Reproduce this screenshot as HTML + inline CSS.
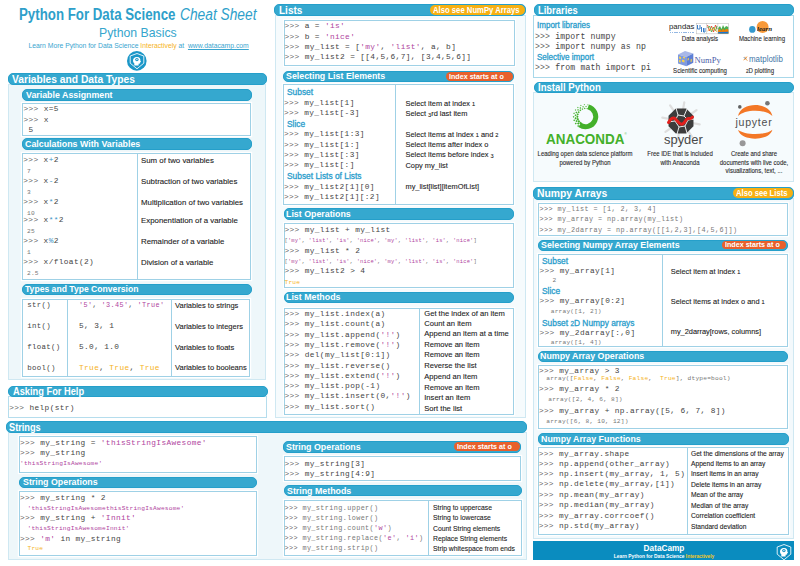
<!DOCTYPE html>
<html><head><meta charset="utf-8"><style>
*{margin:0;padding:0;box-sizing:border-box}
html,body{width:800px;height:566px;overflow:hidden;background:#fff;position:relative}
.t{position:absolute;white-space:pre;line-height:1;transform-origin:0 50%}
.body{position:absolute;border:1px solid #cfe8f2}
.cbox{position:absolute;background:#fff;border:1px solid #9fd1e6;box-shadow:0 0 0 1.2px #fff}
.vdiv{position:absolute;background:#9fd1e6}
.hdr{position:absolute;background:#35a8cf;border-radius:5px;border:0.8px solid #259fca}
.sub{position:absolute;background:#35a8cf;border-radius:5px;border:0.8px solid #259fca}
.badge{position:absolute;border-radius:5px}
.p{color:#666}
.q{color:#b0449e}
.y{color:#f5b324}
.o{color:#3b93c6}
</style></head>
<body>
<div class="t" style="left:19.30px;top:7px;font-size:16px;color:#2e9fca;font-family:'Liberation Sans',sans-serif;font-weight:bold;transform:scaleX(0.83);">Python For Data Science</div><div class="t" style="left:180.00px;top:7px;font-size:16px;color:#2e9fca;font-family:'Liberation Sans',sans-serif;font-style:italic;transform:scaleX(0.86);">Cheat Sheet</div><div class="t" style="left:99.40px;top:26px;font-size:13.2px;color:#35a5cd;font-family:'Liberation Sans',sans-serif;transform:scaleX(0.93);">Python Basics</div><div class="t" style="left:28.50px;top:43px;font-size:6.8px;color:#3aa5cf;font-family:'Liberation Sans',sans-serif;">Learn More Python for Data Science <span style="color:#f5b324">Interactively</span> at&nbsp; <u>www.datacamp.com</u></div><div class="body" style="left:7.8px;top:84px;width:258.70px;height:295.50px;background:#eef7fa;"></div><div class="hdr" style="left:8.25px;top:72.5px;width:258.75px;height:12.70px;"></div><div class="t" style="left:12.40px;top:74px;font-size:11.4px;color:#fff;font-family:'Liberation Sans',sans-serif;font-weight:bold;transform:scaleX(0.9);">Variables and Data Types</div><div class="sub" style="left:21.5px;top:88.75px;width:230.50px;height:11.75px;"></div><div class="t" style="left:25.90px;top:91px;font-size:9.3px;color:#fff;font-family:'Liberation Sans',sans-serif;font-weight:bold;transform:scaleX(0.95);">Variable Assignment</div><div class="cbox" style="left:22px;top:102.5px;width:228.90px;height:33.00px;"></div><div class="t" style="left:23.50px;top:106px;font-size:7.8px;color:#444;font-family:'Liberation Mono',monospace;letter-spacing:0.37px;"><span class="p">&gt;&gt;&gt;</span> x=5</div><div class="t" style="left:23.50px;top:117px;font-size:7.8px;color:#444;font-family:'Liberation Mono',monospace;letter-spacing:0.37px;"><span class="p">&gt;&gt;&gt;</span> x</div><div class="t" style="left:23.50px;top:127px;font-size:7.8px;color:#444;font-family:'Liberation Mono',monospace;letter-spacing:0.37px;"> 5</div><div class="sub" style="left:21.5px;top:138px;width:230.50px;height:11.50px;"></div><div class="t" style="left:25.40px;top:140px;font-size:9.3px;color:#fff;font-family:'Liberation Sans',sans-serif;font-weight:bold;transform:scaleX(0.95);">Calculations With Variables</div><div class="cbox" style="left:22px;top:152.5px;width:228.90px;height:127.00px;"></div><div class="vdiv" style="left:136.9px;top:152.5px;width:1.00px;height:127.00px;"></div><div class="t" style="left:23.30px;top:157px;font-size:7.8px;color:#444;font-family:'Liberation Mono',monospace;letter-spacing:0.37px;"><span class="p">&gt;&gt;&gt;</span></div><div class="t" style="left:43.60px;top:157px;font-size:7.8px;color:#444;font-family:'Liberation Mono',monospace;letter-spacing:0.37px;">x<span class="o">+</span>2</div><div class="t" style="left:27.00px;top:169px;font-size:6.2px;color:#777;font-family:'Liberation Mono',monospace;letter-spacing:0.21px;">7</div><div class="t" style="left:141.00px;top:157px;font-size:7.85px;color:#222;font-family:'Liberation Sans',sans-serif;-webkit-text-stroke:0.1px #222;">Sum of two variables</div><div class="t" style="left:23.30px;top:178px;font-size:7.8px;color:#444;font-family:'Liberation Mono',monospace;letter-spacing:0.37px;"><span class="p">&gt;&gt;&gt;</span></div><div class="t" style="left:43.60px;top:178px;font-size:7.8px;color:#444;font-family:'Liberation Mono',monospace;letter-spacing:0.37px;">x<span class="o">-</span>2</div><div class="t" style="left:27.00px;top:190px;font-size:6.2px;color:#777;font-family:'Liberation Mono',monospace;letter-spacing:0.21px;">3</div><div class="t" style="left:141.00px;top:178px;font-size:7.85px;color:#222;font-family:'Liberation Sans',sans-serif;-webkit-text-stroke:0.1px #222;">Subtraction of two variables</div><div class="t" style="left:23.30px;top:199px;font-size:7.8px;color:#444;font-family:'Liberation Mono',monospace;letter-spacing:0.37px;"><span class="p">&gt;&gt;&gt;</span></div><div class="t" style="left:43.60px;top:199px;font-size:7.8px;color:#444;font-family:'Liberation Mono',monospace;letter-spacing:0.37px;">x<span class="o">*</span>2</div><div class="t" style="left:27.00px;top:211px;font-size:6.2px;color:#777;font-family:'Liberation Mono',monospace;letter-spacing:0.21px;">10</div><div class="t" style="left:141.00px;top:199px;font-size:7.85px;color:#222;font-family:'Liberation Sans',sans-serif;-webkit-text-stroke:0.1px #222;">Multiplication of two variables</div><div class="t" style="left:23.30px;top:217px;font-size:7.8px;color:#444;font-family:'Liberation Mono',monospace;letter-spacing:0.37px;"><span class="p">&gt;&gt;&gt;</span></div><div class="t" style="left:43.60px;top:217px;font-size:7.8px;color:#444;font-family:'Liberation Mono',monospace;letter-spacing:0.37px;">x<span class="o">**</span>2</div><div class="t" style="left:27.00px;top:229px;font-size:6.2px;color:#777;font-family:'Liberation Mono',monospace;letter-spacing:0.21px;">25</div><div class="t" style="left:141.00px;top:217px;font-size:7.85px;color:#222;font-family:'Liberation Sans',sans-serif;-webkit-text-stroke:0.1px #222;">Exponentiation of a variable</div><div class="t" style="left:23.30px;top:238px;font-size:7.8px;color:#444;font-family:'Liberation Mono',monospace;letter-spacing:0.37px;"><span class="p">&gt;&gt;&gt;</span></div><div class="t" style="left:43.60px;top:238px;font-size:7.8px;color:#444;font-family:'Liberation Mono',monospace;letter-spacing:0.37px;">x<span class="o">%</span>2</div><div class="t" style="left:27.00px;top:250px;font-size:6.2px;color:#777;font-family:'Liberation Mono',monospace;letter-spacing:0.21px;">1</div><div class="t" style="left:141.00px;top:238px;font-size:7.85px;color:#222;font-family:'Liberation Sans',sans-serif;-webkit-text-stroke:0.1px #222;">Remainder of a variable</div><div class="t" style="left:23.30px;top:259px;font-size:7.8px;color:#444;font-family:'Liberation Mono',monospace;letter-spacing:0.37px;"><span class="p">&gt;&gt;&gt;</span></div><div class="t" style="left:43.60px;top:259px;font-size:7.8px;color:#444;font-family:'Liberation Mono',monospace;letter-spacing:0.37px;">x/float(2)</div><div class="t" style="left:27.00px;top:271px;font-size:6.2px;color:#777;font-family:'Liberation Mono',monospace;letter-spacing:0.21px;">2.5</div><div class="t" style="left:141.00px;top:259px;font-size:7.85px;color:#222;font-family:'Liberation Sans',sans-serif;-webkit-text-stroke:0.1px #222;">Division of a variable</div><div class="sub" style="left:21.5px;top:283.75px;width:230.50px;height:11.50px;"></div><div class="t" style="left:25.40px;top:285px;font-size:9.3px;color:#fff;font-family:'Liberation Sans',sans-serif;font-weight:bold;transform:scaleX(0.925);">Types and Type Conversion</div><div class="cbox" style="left:21.75px;top:299.25px;width:228.25px;height:77.25px;"></div><div class="vdiv" style="left:66.5px;top:299.25px;width:1.00px;height:77.25px;"></div><div class="vdiv" style="left:170.75px;top:299.25px;width:1.00px;height:77.25px;"></div><div class="t" style="left:27.30px;top:302px;font-size:7.4px;color:#444;font-family:'Liberation Mono',monospace;letter-spacing:0.3px;">str()</div><div class="t" style="left:79.00px;top:302px;font-size:6.8px;color:#444;font-family:'Liberation Mono',monospace;letter-spacing:0.42px;"><span class="q">'5'</span>, <span class="q">'3.45'</span>, <span class="q">'True'</span></div><div class="t" style="left:174.50px;top:302px;font-size:7.75px;color:#222;font-family:'Liberation Sans',sans-serif;transform:scaleX(0.97);-webkit-text-stroke:0.1px #222;">Variables to strings</div><div class="t" style="left:27.30px;top:323px;font-size:7.4px;color:#444;font-family:'Liberation Mono',monospace;letter-spacing:0.3px;">int()</div><div class="t" style="left:79.00px;top:323px;font-size:7.8px;color:#444;font-family:'Liberation Mono',monospace;letter-spacing:0.37px;">5, 3, 1</div><div class="t" style="left:174.50px;top:323px;font-size:7.75px;color:#222;font-family:'Liberation Sans',sans-serif;transform:scaleX(0.97);-webkit-text-stroke:0.1px #222;">Variables to integers</div><div class="t" style="left:27.30px;top:344px;font-size:7.4px;color:#444;font-family:'Liberation Mono',monospace;letter-spacing:0.3px;">float()</div><div class="t" style="left:79.00px;top:344px;font-size:7.8px;color:#444;font-family:'Liberation Mono',monospace;letter-spacing:0.37px;">5.0, 1.0</div><div class="t" style="left:174.50px;top:344px;font-size:7.75px;color:#222;font-family:'Liberation Sans',sans-serif;transform:scaleX(0.97);-webkit-text-stroke:0.1px #222;">Variables to floats</div><div class="t" style="left:27.30px;top:365px;font-size:7.4px;color:#444;font-family:'Liberation Mono',monospace;letter-spacing:0.3px;">bool()</div><div class="t" style="left:79.00px;top:365px;font-size:7.8px;color:#444;font-family:'Liberation Mono',monospace;letter-spacing:0.37px;"><span class="y">True</span>, <span class="y">True</span>, <span class="y">True</span></div><div class="t" style="left:174.50px;top:364px;font-size:7.75px;color:#222;font-family:'Liberation Sans',sans-serif;transform:scaleX(0.97);-webkit-text-stroke:0.1px #222;">Variables to booleans</div><div class="body" style="left:7.9px;top:396px;width:259.60px;height:21.75px;background:#fff;border-color:#b5dded;"></div><div class="hdr" style="left:8.25px;top:385.8px;width:259.25px;height:11.30px;"></div><div class="t" style="left:12.50px;top:387px;font-size:10.2px;color:#fff;font-family:'Liberation Sans',sans-serif;font-weight:bold;transform:scaleX(0.91);">Asking For Help</div><div class="t" style="left:9.25px;top:405px;font-size:7.8px;color:#444;font-family:'Liberation Mono',monospace;letter-spacing:0.37px;"><span class="p">&gt;&gt;&gt;</span> help(str)</div><div class="body" style="left:7.8px;top:432px;width:519.20px;height:127.75px;background:#eef7fa;"></div><div class="hdr" style="left:5.75px;top:421.2px;width:521.25px;height:11.40px;"></div><div class="t" style="left:9.40px;top:423px;font-size:10.4px;color:#fff;font-family:'Liberation Sans',sans-serif;font-weight:bold;transform:scaleX(0.886);">Strings</div><div class="cbox" style="left:19.25px;top:435.5px;width:237.50px;height:37.75px;"></div><div class="t" style="left:20.00px;top:440px;font-size:7.8px;color:#444;font-family:'Liberation Mono',monospace;letter-spacing:0.37px;"><span class="p">&gt;&gt;&gt;</span> my_string = <span class="q">'thisStringIsAwesome'</span></div><div class="t" style="left:20.00px;top:450px;font-size:7.8px;color:#444;font-family:'Liberation Mono',monospace;letter-spacing:0.37px;"><span class="p">&gt;&gt;&gt;</span> my_string</div><div class="t" style="left:20.00px;top:461px;font-size:6.2px;color:#777;font-family:'Liberation Mono',monospace;letter-spacing:0.21px;"><span class="q">'thisStringIsAwesome'</span></div><div class="sub" style="left:18.75px;top:476.5px;width:238.00px;height:11.25px;"></div><div class="t" style="left:22.65px;top:478px;font-size:9.3px;color:#fff;font-family:'Liberation Sans',sans-serif;font-weight:bold;transform:scaleX(0.95);">String Operations</div><div class="cbox" style="left:19.25px;top:490.75px;width:237.50px;height:65.00px;"></div><div class="t" style="left:20.00px;top:495px;font-size:7.8px;color:#444;font-family:'Liberation Mono',monospace;letter-spacing:0.37px;"><span class="p">&gt;&gt;&gt;</span> my_string * 2</div><div class="t" style="left:27.50px;top:506px;font-size:6.2px;color:#777;font-family:'Liberation Mono',monospace;letter-spacing:0.21px;"><span class="q">'thisStringIsAwesomethisStringIsAwesome'</span></div><div class="t" style="left:20.00px;top:515px;font-size:7.8px;color:#444;font-family:'Liberation Mono',monospace;letter-spacing:0.37px;"><span class="p">&gt;&gt;&gt;</span> my_string + <span class="q">'Innit'</span></div><div class="t" style="left:27.50px;top:526px;font-size:6.2px;color:#777;font-family:'Liberation Mono',monospace;letter-spacing:0.21px;"><span class="q">'thisStringIsAwesomeInnit'</span></div><div class="t" style="left:20.00px;top:536px;font-size:7.8px;color:#444;font-family:'Liberation Mono',monospace;letter-spacing:0.37px;"><span class="p">&gt;&gt;&gt;</span> <span class="q">'m'</span> in my_string</div><div class="t" style="left:27.50px;top:546px;font-size:6.2px;color:#777;font-family:'Liberation Mono',monospace;letter-spacing:0.21px;"><span class="y">True</span></div><div class="sub" style="left:282.5px;top:441.25px;width:238.00px;height:11.25px;"></div><div class="t" style="left:285.90px;top:443px;font-size:9.3px;color:#fff;font-family:'Liberation Sans',sans-serif;font-weight:bold;transform:scaleX(0.95);">String Operations</div><div class="badge" style="left:453.75px;top:442px;width:65.75px;height:9.25px;background:#e8602c"></div><div class="t" style="left:457.30px;top:443px;font-size:7.9px;color:#fff;font-family:'Liberation Sans',sans-serif;font-weight:bold;transform:scaleX(0.905);">Index starts at o</div><div class="cbox" style="left:283.75px;top:456.25px;width:237.00px;height:25.00px;"></div><div class="t" style="left:284.50px;top:461px;font-size:7.8px;color:#444;font-family:'Liberation Mono',monospace;letter-spacing:0.37px;"><span class="p">&gt;&gt;&gt;</span> my_string[3]</div><div class="t" style="left:284.50px;top:471px;font-size:7.8px;color:#444;font-family:'Liberation Mono',monospace;letter-spacing:0.37px;"><span class="p">&gt;&gt;&gt;</span> my_string[4:9]</div><div class="sub" style="left:283.75px;top:485px;width:237.75px;height:11.25px;"></div><div class="t" style="left:286.90px;top:487px;font-size:9.3px;color:#fff;font-family:'Liberation Sans',sans-serif;font-weight:bold;transform:scaleX(0.95);">String Methods</div><div class="cbox" style="left:283.75px;top:500px;width:237.75px;height:55.75px;"></div><div class="vdiv" style="left:427.75px;top:500px;width:1.00px;height:55.75px;"></div><div class="t" style="left:284.50px;top:505px;font-size:6.8px;color:#777;font-family:'Liberation Mono',monospace;letter-spacing:0.4px;"><span class="p">&gt;&gt;&gt;</span> my_string.upper()</div><div class="t" style="left:432.50px;top:504px;font-size:7.4px;color:#222;font-family:'Liberation Sans',sans-serif;transform:scaleX(0.92);-webkit-text-stroke:0.1px #222;">String to uppercase</div><div class="t" style="left:284.50px;top:515px;font-size:6.8px;color:#777;font-family:'Liberation Mono',monospace;letter-spacing:0.4px;"><span class="p">&gt;&gt;&gt;</span> my_string.lower()</div><div class="t" style="left:432.50px;top:514px;font-size:7.4px;color:#222;font-family:'Liberation Sans',sans-serif;transform:scaleX(0.92);-webkit-text-stroke:0.1px #222;">String to lowercase</div><div class="t" style="left:284.50px;top:525px;font-size:6.8px;color:#777;font-family:'Liberation Mono',monospace;letter-spacing:0.4px;"><span class="p">&gt;&gt;&gt;</span> my_string.count(<span class="q">'w'</span>)</div><div class="t" style="left:432.50px;top:525px;font-size:7.4px;color:#222;font-family:'Liberation Sans',sans-serif;transform:scaleX(0.92);-webkit-text-stroke:0.1px #222;">Count String elements</div><div class="t" style="left:284.50px;top:535px;font-size:6.8px;color:#777;font-family:'Liberation Mono',monospace;letter-spacing:0.4px;"><span class="p">&gt;&gt;&gt;</span> my_string.replace(<span class="q">'e'</span>, <span class="q">'i'</span>)</div><div class="t" style="left:432.50px;top:535px;font-size:7.4px;color:#222;font-family:'Liberation Sans',sans-serif;transform:scaleX(0.92);-webkit-text-stroke:0.1px #222;">Replace String elements</div><div class="t" style="left:284.50px;top:545px;font-size:6.8px;color:#777;font-family:'Liberation Mono',monospace;letter-spacing:0.4px;"><span class="p">&gt;&gt;&gt;</span> my_string.strip()</div><div class="t" style="left:432.50px;top:545px;font-size:7.4px;color:#222;font-family:'Liberation Sans',sans-serif;transform:scaleX(0.92);-webkit-text-stroke:0.1px #222;">Strip whitespace from ends</div><div class="body" style="left:275px;top:15px;width:250.50px;height:402.50px;background:#f6fbfd;"></div><div class="hdr" style="left:274.4px;top:3.75px;width:251.60px;height:12.50px;"></div><div class="t" style="left:278.80px;top:5px;font-size:11.4px;color:#fff;font-family:'Liberation Sans',sans-serif;font-weight:bold;transform:scaleX(0.88);">Lists</div><div class="badge" style="left:429.5px;top:5.2px;width:95.20px;height:9.90px;background:#f7b012"></div><div class="t" style="left:432.60px;top:6px;font-size:8.4px;color:#fff;font-family:'Liberation Sans',sans-serif;font-weight:bold;transform:scaleX(0.92);">Also see NumPy Arrays</div><div class="cbox" style="left:283.5px;top:19.5px;width:231.00px;height:46.50px;"></div><div class="t" style="left:284.50px;top:23px;font-size:7.8px;color:#444;font-family:'Liberation Mono',monospace;letter-spacing:0.37px;"><span class="p">&gt;&gt;&gt;</span> a = <span class="q">'is'</span></div><div class="t" style="left:284.50px;top:34px;font-size:7.8px;color:#444;font-family:'Liberation Mono',monospace;letter-spacing:0.37px;"><span class="p">&gt;&gt;&gt;</span> b = <span class="q">'nice'</span></div><div class="t" style="left:284.50px;top:44px;font-size:7.8px;color:#444;font-family:'Liberation Mono',monospace;letter-spacing:0.37px;"><span class="p">&gt;&gt;&gt;</span> my_list = [<span class="q">'my'</span>, <span class="q">'list'</span>, a, b]</div><div class="t" style="left:284.50px;top:54px;font-size:7.8px;color:#444;font-family:'Liberation Mono',monospace;letter-spacing:0.37px;"><span class="p">&gt;&gt;&gt;</span> my_list2 = [[4,5,6,7], [3,4,5,6]]</div><div class="sub" style="left:282.5px;top:70.5px;width:231.50px;height:11.50px;"></div><div class="t" style="left:285.90px;top:72px;font-size:9.3px;color:#fff;font-family:'Liberation Sans',sans-serif;font-weight:bold;transform:scaleX(0.95);">Selecting List Elements</div><div class="badge" style="left:446.25px;top:71.75px;width:66.25px;height:8.75px;background:#e8602c"></div><div class="t" style="left:449.00px;top:73px;font-size:7.9px;color:#fff;font-family:'Liberation Sans',sans-serif;font-weight:bold;transform:scaleX(0.905);">Index starts at o</div><div class="cbox" style="left:283px;top:84.25px;width:230.75px;height:120.75px;"></div><div class="vdiv" style="left:395.0px;top:84.25px;width:1.00px;height:120.75px;"></div><div class="t" style="left:287.00px;top:88px;font-size:8.4px;color:#2a9dcc;font-family:'Liberation Sans',sans-serif;-webkit-text-stroke:0.3px #2a9dcc;">Subset</div><div class="t" style="left:284.00px;top:100px;font-size:7.8px;color:#444;font-family:'Liberation Mono',monospace;letter-spacing:0.37px;"><span class="p">&gt;&gt;&gt;</span> my_list[1]</div><div class="t" style="left:405.50px;top:100px;font-size:7.4px;color:#222;font-family:'Liberation Sans',sans-serif;-webkit-text-stroke:0.1px #222;">Select item at index <span style="font-size:76%">1</span></div><div class="t" style="left:284.00px;top:110px;font-size:7.8px;color:#444;font-family:'Liberation Mono',monospace;letter-spacing:0.37px;"><span class="p">&gt;&gt;&gt;</span> my_list[-3]</div><div class="t" style="left:405.50px;top:110px;font-size:7.4px;color:#222;font-family:'Liberation Sans',sans-serif;-webkit-text-stroke:0.1px #222;">Select <span style="font-size:76%;vertical-align:-0.22em">3</span>rd last item</div><div class="t" style="left:287.00px;top:120px;font-size:8.4px;color:#2a9dcc;font-family:'Liberation Sans',sans-serif;-webkit-text-stroke:0.3px #2a9dcc;">Slice</div><div class="t" style="left:284.00px;top:131px;font-size:7.8px;color:#444;font-family:'Liberation Mono',monospace;letter-spacing:0.37px;"><span class="p">&gt;&gt;&gt;</span> my_list[1:3]</div><div class="t" style="left:405.50px;top:131px;font-size:7.4px;color:#222;font-family:'Liberation Sans',sans-serif;-webkit-text-stroke:0.1px #222;">Select items at index <span style="font-size:76%">1</span> and <span style="font-size:76%">2</span></div><div class="t" style="left:284.00px;top:142px;font-size:7.8px;color:#444;font-family:'Liberation Mono',monospace;letter-spacing:0.37px;"><span class="p">&gt;&gt;&gt;</span> my_list[1:]</div><div class="t" style="left:405.50px;top:141px;font-size:7.4px;color:#222;font-family:'Liberation Sans',sans-serif;-webkit-text-stroke:0.1px #222;">Select items after index o</div><div class="t" style="left:284.00px;top:152px;font-size:7.8px;color:#444;font-family:'Liberation Mono',monospace;letter-spacing:0.37px;"><span class="p">&gt;&gt;&gt;</span> my_list[:3]</div><div class="t" style="left:405.50px;top:151px;font-size:7.4px;color:#222;font-family:'Liberation Sans',sans-serif;-webkit-text-stroke:0.1px #222;">Select items before index <span style="font-size:76%;vertical-align:-0.22em">3</span></div><div class="t" style="left:284.00px;top:162px;font-size:7.8px;color:#444;font-family:'Liberation Mono',monospace;letter-spacing:0.37px;"><span class="p">&gt;&gt;&gt;</span> my_list[:]</div><div class="t" style="left:405.50px;top:162px;font-size:7.4px;color:#222;font-family:'Liberation Sans',sans-serif;-webkit-text-stroke:0.1px #222;">Copy my_list</div><div class="t" style="left:287.00px;top:172px;font-size:8.4px;color:#2a9dcc;font-family:'Liberation Sans',sans-serif;-webkit-text-stroke:0.3px #2a9dcc;">Subset Lists of Lists</div><div class="t" style="left:284.00px;top:184px;font-size:7.8px;color:#444;font-family:'Liberation Mono',monospace;letter-spacing:0.37px;"><span class="p">&gt;&gt;&gt;</span> my_list2[1][0]</div><div class="t" style="left:405.50px;top:183px;font-size:7.4px;color:#222;font-family:'Liberation Sans',sans-serif;-webkit-text-stroke:0.1px #222;">my_list[list][itemOfList]</div><div class="t" style="left:284.00px;top:194px;font-size:7.8px;color:#444;font-family:'Liberation Mono',monospace;letter-spacing:0.37px;"><span class="p">&gt;&gt;&gt;</span> my_list2[1][:2]</div><div class="sub" style="left:283.75px;top:208.25px;width:230.50px;height:11.25px;"></div><div class="t" style="left:286.40px;top:210px;font-size:9.3px;color:#fff;font-family:'Liberation Sans',sans-serif;font-weight:bold;transform:scaleX(0.95);">List Operations</div><div class="cbox" style="left:283.75px;top:222.5px;width:230.50px;height:65.00px;"></div><div class="t" style="left:284.50px;top:227px;font-size:7.8px;color:#444;font-family:'Liberation Mono',monospace;letter-spacing:0.37px;"><span class="p">&gt;&gt;&gt;</span> my_list + my_list</div><div class="t" style="left:284.50px;top:239px;font-size:5.4px;color:#777;font-family:'Liberation Mono',monospace;letter-spacing:0.2px;">[<span class="q">'my'</span>, <span class="q">'list'</span>, <span class="q">'is'</span>, <span class="q">'nice'</span>, <span class="q">'my'</span>, <span class="q">'list'</span>, <span class="q">'is'</span>, <span class="q">'nice'</span>]</div><div class="t" style="left:284.50px;top:248px;font-size:7.8px;color:#444;font-family:'Liberation Mono',monospace;letter-spacing:0.37px;"><span class="p">&gt;&gt;&gt;</span> my_list * 2</div><div class="t" style="left:284.50px;top:260px;font-size:5.4px;color:#777;font-family:'Liberation Mono',monospace;letter-spacing:0.2px;">[<span class="q">'my'</span>, <span class="q">'list'</span>, <span class="q">'is'</span>, <span class="q">'nice'</span>, <span class="q">'my'</span>, <span class="q">'list'</span>, <span class="q">'is'</span>, <span class="q">'nice'</span>]</div><div class="t" style="left:284.50px;top:268px;font-size:7.8px;color:#444;font-family:'Liberation Mono',monospace;letter-spacing:0.37px;"><span class="p">&gt;&gt;&gt;</span> my_list2 &gt; 4</div><div class="t" style="left:284.50px;top:280px;font-size:6.2px;color:#777;font-family:'Liberation Mono',monospace;letter-spacing:0.21px;"><span class="y">True</span></div><div class="sub" style="left:283.75px;top:292px;width:230.50px;height:11.00px;"></div><div class="t" style="left:286.40px;top:293px;font-size:9.3px;color:#fff;font-family:'Liberation Sans',sans-serif;font-weight:bold;transform:scaleX(0.95);">List Methods</div><div class="cbox" style="left:283.75px;top:307.5px;width:230.25px;height:107.50px;"></div><div class="vdiv" style="left:418.75px;top:307.5px;width:1.00px;height:107.50px;"></div><div class="t" style="left:284.50px;top:311px;font-size:7.8px;color:#444;font-family:'Liberation Mono',monospace;letter-spacing:0.37px;"><span class="p">&gt;&gt;&gt;</span> my_list.index(a)</div><div class="t" style="left:424.25px;top:310px;font-size:7.6px;color:#222;font-family:'Liberation Sans',sans-serif;-webkit-text-stroke:0.1px #222;">Get the index of an item</div><div class="t" style="left:284.50px;top:321px;font-size:7.8px;color:#444;font-family:'Liberation Mono',monospace;letter-spacing:0.37px;"><span class="p">&gt;&gt;&gt;</span> my_list.count(a)</div><div class="t" style="left:424.25px;top:320px;font-size:7.6px;color:#222;font-family:'Liberation Sans',sans-serif;-webkit-text-stroke:0.1px #222;">Count an item</div><div class="t" style="left:284.50px;top:332px;font-size:7.8px;color:#444;font-family:'Liberation Mono',monospace;letter-spacing:0.37px;"><span class="p">&gt;&gt;&gt;</span> my_list.append(<span class="q">'!'</span>)</div><div class="t" style="left:424.25px;top:330px;font-size:7.6px;color:#222;font-family:'Liberation Sans',sans-serif;-webkit-text-stroke:0.1px #222;">Append an item at a time</div><div class="t" style="left:284.50px;top:342px;font-size:7.8px;color:#444;font-family:'Liberation Mono',monospace;letter-spacing:0.37px;"><span class="p">&gt;&gt;&gt;</span> my_list.remove(<span class="q">'!'</span>)</div><div class="t" style="left:424.25px;top:341px;font-size:7.6px;color:#222;font-family:'Liberation Sans',sans-serif;-webkit-text-stroke:0.1px #222;">Remove an item</div><div class="t" style="left:284.50px;top:352px;font-size:7.8px;color:#444;font-family:'Liberation Mono',monospace;letter-spacing:0.37px;"><span class="p">&gt;&gt;&gt;</span> del(my_list[0:1])</div><div class="t" style="left:424.25px;top:351px;font-size:7.6px;color:#222;font-family:'Liberation Sans',sans-serif;-webkit-text-stroke:0.1px #222;">Remove an item</div><div class="t" style="left:284.50px;top:363px;font-size:7.8px;color:#444;font-family:'Liberation Mono',monospace;letter-spacing:0.37px;"><span class="p">&gt;&gt;&gt;</span> my_list.reverse()</div><div class="t" style="left:424.25px;top:362px;font-size:7.6px;color:#222;font-family:'Liberation Sans',sans-serif;-webkit-text-stroke:0.1px #222;">Reverse the list</div><div class="t" style="left:284.50px;top:373px;font-size:7.8px;color:#444;font-family:'Liberation Mono',monospace;letter-spacing:0.37px;"><span class="p">&gt;&gt;&gt;</span> my_list.extend(<span class="q">'!'</span>)</div><div class="t" style="left:424.25px;top:373px;font-size:7.6px;color:#222;font-family:'Liberation Sans',sans-serif;-webkit-text-stroke:0.1px #222;">Append an item</div><div class="t" style="left:284.50px;top:383px;font-size:7.8px;color:#444;font-family:'Liberation Mono',monospace;letter-spacing:0.37px;"><span class="p">&gt;&gt;&gt;</span> my_list.pop(-1)</div><div class="t" style="left:424.25px;top:384px;font-size:7.6px;color:#222;font-family:'Liberation Sans',sans-serif;-webkit-text-stroke:0.1px #222;">Remove an item</div><div class="t" style="left:284.50px;top:393px;font-size:7.8px;color:#444;font-family:'Liberation Mono',monospace;letter-spacing:0.37px;"><span class="p">&gt;&gt;&gt;</span> my_list.insert(0,<span class="q">'!'</span>)</div><div class="t" style="left:424.25px;top:394px;font-size:7.6px;color:#222;font-family:'Liberation Sans',sans-serif;-webkit-text-stroke:0.1px #222;">Insert an item</div><div class="t" style="left:284.50px;top:404px;font-size:7.8px;color:#444;font-family:'Liberation Mono',monospace;letter-spacing:0.37px;"><span class="p">&gt;&gt;&gt;</span> my_list.sort()</div><div class="t" style="left:424.25px;top:405px;font-size:7.6px;color:#222;font-family:'Liberation Sans',sans-serif;-webkit-text-stroke:0.1px #222;">Sort the list</div><div class="body" style="left:533.3px;top:15px;width:260.40px;height:62.50px;background:#fff;border-color:#a8d8ea;"></div><div class="hdr" style="left:533.75px;top:3.75px;width:260.25px;height:12.50px;"></div><div class="t" style="left:537.60px;top:5px;font-size:11px;color:#fff;font-family:'Liberation Sans',sans-serif;font-weight:bold;transform:scaleX(0.855);">Libraries</div><div class="t" style="left:537.00px;top:22px;font-size:8.2px;color:#2a9dcc;font-family:'Liberation Sans',sans-serif;transform:scaleX(0.98);-webkit-text-stroke:0.3px #2a9dcc;">Import libraries</div><div class="t" style="left:535.00px;top:33px;font-size:8.2px;color:#444;font-family:'Liberation Mono',monospace;letter-spacing:0.13px;"><span class="p">&gt;&gt;&gt;</span> import numpy</div><div class="t" style="left:535.00px;top:43px;font-size:8.2px;color:#444;font-family:'Liberation Mono',monospace;letter-spacing:0.13px;"><span class="p">&gt;&gt;&gt;</span> import numpy as np</div><div class="t" style="left:537.00px;top:54px;font-size:8.2px;color:#2a9dcc;font-family:'Liberation Sans',sans-serif;transform:scaleX(0.98);-webkit-text-stroke:0.3px #2a9dcc;">Selective import</div><div class="t" style="left:535.00px;top:64px;font-size:8.2px;color:#444;font-family:'Liberation Mono',monospace;letter-spacing:0.13px;"><span class="p">&gt;&gt;&gt;</span> from math import pi</div><div class="t" style="left:700.00px;top:36px;font-size:6.5px;color:#2a2a2a;font-family:'Liberation Sans',sans-serif;transform:translateX(-50%) scaleX(0.93);transform-origin:50% 50%;-webkit-text-stroke:0.1px #2a2a2a;">Data analysis</div><div class="t" style="left:762.00px;top:36px;font-size:6.5px;color:#2a2a2a;font-family:'Liberation Sans',sans-serif;transform:translateX(-50%) scaleX(0.93);transform-origin:50% 50%;-webkit-text-stroke:0.1px #2a2a2a;">Machine learning</div><div class="t" style="left:700.00px;top:68px;font-size:6.5px;color:#2a2a2a;font-family:'Liberation Sans',sans-serif;transform:translateX(-50%) scaleX(0.93);transform-origin:50% 50%;-webkit-text-stroke:0.1px #2a2a2a;">Scientific computing</div><div class="t" style="left:760.00px;top:68px;font-size:6.5px;color:#2a2a2a;font-family:'Liberation Sans',sans-serif;transform:translateX(-50%) scaleX(0.93);transform-origin:50% 50%;-webkit-text-stroke:0.1px #2a2a2a;"><span style="font-size:76%">2</span>D plotting</div><div class="body" style="left:533.3px;top:92px;width:260.60px;height:89.50px;background:#f6fbfd;"></div><div class="hdr" style="left:533.75px;top:82px;width:259.75px;height:11.25px;"></div><div class="t" style="left:537.60px;top:83px;font-size:10.3px;color:#fff;font-family:'Liberation Sans',sans-serif;font-weight:bold;transform:scaleX(0.93);">Install Python</div><div class="t" style="left:585.00px;top:151px;font-size:6.3px;color:#2a2a2a;font-family:'Liberation Sans',sans-serif;transform:translateX(-50%) scaleX(0.95);transform-origin:50% 50%;-webkit-text-stroke:0.1px #2a2a2a;">Leading open data science platform</div><div class="t" style="left:585.00px;top:160px;font-size:6.3px;color:#2a2a2a;font-family:'Liberation Sans',sans-serif;transform:translateX(-50%) scaleX(0.95);transform-origin:50% 50%;-webkit-text-stroke:0.1px #2a2a2a;">powered by Python</div><div class="t" style="left:680.00px;top:151px;font-size:6.3px;color:#2a2a2a;font-family:'Liberation Sans',sans-serif;transform:translateX(-50%) scaleX(0.95);transform-origin:50% 50%;-webkit-text-stroke:0.1px #2a2a2a;">Free IDE that is included</div><div class="t" style="left:680.00px;top:160px;font-size:6.3px;color:#2a2a2a;font-family:'Liberation Sans',sans-serif;transform:translateX(-50%) scaleX(0.95);transform-origin:50% 50%;-webkit-text-stroke:0.1px #2a2a2a;">with Anaconda</div><div class="t" style="left:754.40px;top:151px;font-size:6.3px;color:#2a2a2a;font-family:'Liberation Sans',sans-serif;transform:translateX(-50%) scaleX(0.95);transform-origin:50% 50%;-webkit-text-stroke:0.1px #2a2a2a;">Create and share</div><div class="t" style="left:754.40px;top:160px;font-size:6.3px;color:#2a2a2a;font-family:'Liberation Sans',sans-serif;transform:translateX(-50%) scaleX(0.95);transform-origin:50% 50%;-webkit-text-stroke:0.1px #2a2a2a;">documents with live code,</div><div class="t" style="left:754.40px;top:168px;font-size:6.3px;color:#2a2a2a;font-family:'Liberation Sans',sans-serif;transform:translateX(-50%) scaleX(0.95);transform-origin:50% 50%;-webkit-text-stroke:0.1px #2a2a2a;">visualizations, text, ...</div><div class="body" style="left:533.3px;top:198px;width:260.60px;height:340.60px;background:#f3f9fc;"></div><div class="hdr" style="left:533.25px;top:187px;width:260.25px;height:12.50px;"></div><div class="t" style="left:536.80px;top:188px;font-size:10.9px;color:#fff;font-family:'Liberation Sans',sans-serif;font-weight:bold;transform:scaleX(0.95);">Numpy Arrays</div><div class="badge" style="left:733px;top:187.8px;width:59.50px;height:10.10px;background:#f7b012"></div><div class="t" style="left:735.60px;top:189px;font-size:9.0px;color:#fff;font-family:'Liberation Sans',sans-serif;font-weight:bold;transform:scaleX(0.85);">Also see Lists</div><div class="cbox" style="left:538.25px;top:202.5px;width:249.25px;height:33.00px;"></div><div class="t" style="left:539.50px;top:206px;font-size:6.8px;color:#777;font-family:'Liberation Mono',monospace;letter-spacing:0.42px;"><span class="p">&gt;&gt;&gt;</span> my_list = [1, 2, 3, 4]</div><div class="t" style="left:539.50px;top:216px;font-size:6.8px;color:#777;font-family:'Liberation Mono',monospace;letter-spacing:0.42px;"><span class="p">&gt;&gt;&gt;</span> my_array = np.array(my_list)</div><div class="t" style="left:539.50px;top:227px;font-size:6.8px;color:#777;font-family:'Liberation Mono',monospace;letter-spacing:0.42px;"><span class="p">&gt;&gt;&gt;</span> my_2darray = np.array([[1,2,3],[4,5,6]])</div><div class="sub" style="left:537.5px;top:239.5px;width:250.00px;height:11.25px;"></div><div class="t" style="left:540.90px;top:241px;font-size:9.3px;color:#fff;font-family:'Liberation Sans',sans-serif;font-weight:bold;transform:scaleX(0.95);">Selecting Numpy Array Elements</div><div class="badge" style="left:721.75px;top:240.5px;width:64.50px;height:8.75px;background:#e8602c"></div><div class="t" style="left:724.80px;top:241px;font-size:7.9px;color:#fff;font-family:'Liberation Sans',sans-serif;font-weight:bold;transform:scaleX(0.905);">Index starts at o</div><div class="cbox" style="left:538.25px;top:253.75px;width:249.75px;height:93.25px;"></div><div class="vdiv" style="left:661.5px;top:253.75px;width:1.00px;height:93.25px;"></div><div class="t" style="left:542.00px;top:257px;font-size:8.4px;color:#2a9dcc;font-family:'Liberation Sans',sans-serif;-webkit-text-stroke:0.3px #2a9dcc;">Subset</div><div class="t" style="left:539.50px;top:268px;font-size:7.8px;color:#444;font-family:'Liberation Mono',monospace;letter-spacing:0.37px;"><span class="p">&gt;&gt;&gt;</span> my_array[1]</div><div class="t" style="left:552.50px;top:278px;font-size:6.2px;color:#777;font-family:'Liberation Mono',monospace;letter-spacing:0.21px;">2</div><div class="t" style="left:670.75px;top:268px;font-size:7.4px;color:#222;font-family:'Liberation Sans',sans-serif;-webkit-text-stroke:0.1px #222;">Select item at index <span style="font-size:76%">1</span></div><div class="t" style="left:542.00px;top:287px;font-size:8.4px;color:#2a9dcc;font-family:'Liberation Sans',sans-serif;-webkit-text-stroke:0.3px #2a9dcc;">Slice</div><div class="t" style="left:539.50px;top:298px;font-size:7.8px;color:#444;font-family:'Liberation Mono',monospace;letter-spacing:0.37px;"><span class="p">&gt;&gt;&gt;</span> my_array[0:2]</div><div class="t" style="left:550.75px;top:309px;font-size:6.2px;color:#777;font-family:'Liberation Mono',monospace;letter-spacing:0.21px;">array([1, 2])</div><div class="t" style="left:670.75px;top:298px;font-size:7.4px;color:#222;font-family:'Liberation Sans',sans-serif;-webkit-text-stroke:0.1px #222;">Select items at index o and <span style="font-size:76%">1</span></div><div class="t" style="left:542.00px;top:319px;font-size:8.4px;color:#2a9dcc;font-family:'Liberation Sans',sans-serif;-webkit-text-stroke:0.3px #2a9dcc;">Subset <span style="font-size:76%">2</span>D Numpy arrays</div><div class="t" style="left:539.50px;top:330px;font-size:7.8px;color:#444;font-family:'Liberation Mono',monospace;letter-spacing:0.37px;"><span class="p">&gt;&gt;&gt;</span> my_2darray[:,0]</div><div class="t" style="left:550.75px;top:340px;font-size:6.2px;color:#777;font-family:'Liberation Mono',monospace;letter-spacing:0.21px;">array([1, 4])</div><div class="t" style="left:670.75px;top:328px;font-size:7.4px;color:#222;font-family:'Liberation Sans',sans-serif;-webkit-text-stroke:0.1px #222;">my_2darray[rows, columns]</div><div class="sub" style="left:537.5px;top:350.75px;width:250.50px;height:11.25px;"></div><div class="t" style="left:540.15px;top:352px;font-size:9.3px;color:#fff;font-family:'Liberation Sans',sans-serif;font-weight:bold;transform:scaleX(0.95);">Numpy Array Operations</div><div class="cbox" style="left:538px;top:364.5px;width:250.00px;height:64.25px;"></div><div class="t" style="left:539.00px;top:368px;font-size:7.8px;color:#444;font-family:'Liberation Mono',monospace;letter-spacing:0.37px;"><span class="p">&gt;&gt;&gt;</span> my_array &gt; 3</div><div class="t" style="left:546.25px;top:376px;font-size:6.2px;color:#777;font-family:'Liberation Mono',monospace;letter-spacing:0.21px;">array([<span class="y">False</span>, <span class="y">False</span>, <span class="y">False</span>,  <span class="y">True</span>], dtype=bool)</div><div class="t" style="left:539.00px;top:386px;font-size:7.8px;color:#444;font-family:'Liberation Mono',monospace;letter-spacing:0.37px;"><span class="p">&gt;&gt;&gt;</span> my_array * 2</div><div class="t" style="left:548.25px;top:397px;font-size:6.2px;color:#777;font-family:'Liberation Mono',monospace;letter-spacing:0.21px;">array([2, 4, 6, 8])</div><div class="t" style="left:539.00px;top:408px;font-size:7.8px;color:#444;font-family:'Liberation Mono',monospace;letter-spacing:0.37px;"><span class="p">&gt;&gt;&gt;</span> my_array + np.array([5, 6, 7, 8])</div><div class="t" style="left:546.25px;top:419px;font-size:6.2px;color:#777;font-family:'Liberation Mono',monospace;letter-spacing:0.21px;">array([6, 8, 10, 12])</div><div class="sub" style="left:537.5px;top:433.25px;width:251.00px;height:11.25px;"></div><div class="t" style="left:540.65px;top:435px;font-size:9.3px;color:#fff;font-family:'Liberation Sans',sans-serif;font-weight:bold;transform:scaleX(0.95);">Numpy Array Functions</div><div class="cbox" style="left:537.5px;top:447px;width:251.00px;height:87.75px;"></div><div class="vdiv" style="left:687.0px;top:447px;width:1.00px;height:87.75px;"></div><div class="t" style="left:538.75px;top:451px;font-size:7.8px;color:#444;font-family:'Liberation Mono',monospace;letter-spacing:0.37px;"><span class="p">&gt;&gt;&gt;</span> my_array.shape</div><div class="t" style="left:690.75px;top:450px;font-size:7.0px;color:#222;font-family:'Liberation Sans',sans-serif;transform:scaleX(0.95);-webkit-text-stroke:0.1px #222;">Get the dimensions of the array</div><div class="t" style="left:538.75px;top:461px;font-size:7.8px;color:#444;font-family:'Liberation Mono',monospace;letter-spacing:0.37px;"><span class="p">&gt;&gt;&gt;</span> np.append(other_array)</div><div class="t" style="left:690.75px;top:460px;font-size:7.0px;color:#222;font-family:'Liberation Sans',sans-serif;transform:scaleX(0.95);-webkit-text-stroke:0.1px #222;">Append items to an array</div><div class="t" style="left:538.75px;top:471px;font-size:7.8px;color:#444;font-family:'Liberation Mono',monospace;letter-spacing:0.37px;"><span class="p">&gt;&gt;&gt;</span> np.insert(my_array, 1, 5)</div><div class="t" style="left:690.75px;top:470px;font-size:7.0px;color:#222;font-family:'Liberation Sans',sans-serif;transform:scaleX(0.95);-webkit-text-stroke:0.1px #222;">Insert items in an array</div><div class="t" style="left:538.75px;top:481px;font-size:7.8px;color:#444;font-family:'Liberation Mono',monospace;letter-spacing:0.37px;"><span class="p">&gt;&gt;&gt;</span> np.delete(my_array,[1])</div><div class="t" style="left:690.75px;top:481px;font-size:7.0px;color:#222;font-family:'Liberation Sans',sans-serif;transform:scaleX(0.95);-webkit-text-stroke:0.1px #222;">Delete items in an array</div><div class="t" style="left:538.75px;top:492px;font-size:7.8px;color:#444;font-family:'Liberation Mono',monospace;letter-spacing:0.37px;"><span class="p">&gt;&gt;&gt;</span> np.mean(my_array)</div><div class="t" style="left:690.75px;top:491px;font-size:7.0px;color:#222;font-family:'Liberation Sans',sans-serif;transform:scaleX(0.95);-webkit-text-stroke:0.1px #222;">Mean of the array</div><div class="t" style="left:538.75px;top:502px;font-size:7.8px;color:#444;font-family:'Liberation Mono',monospace;letter-spacing:0.37px;"><span class="p">&gt;&gt;&gt;</span> np.median(my_array)</div><div class="t" style="left:690.75px;top:502px;font-size:7.0px;color:#222;font-family:'Liberation Sans',sans-serif;transform:scaleX(0.95);-webkit-text-stroke:0.1px #222;">Median of the array</div><div class="t" style="left:538.75px;top:513px;font-size:7.8px;color:#444;font-family:'Liberation Mono',monospace;letter-spacing:0.37px;"><span class="p">&gt;&gt;&gt;</span> my_array.corrcoef()</div><div class="t" style="left:690.75px;top:512px;font-size:7.0px;color:#222;font-family:'Liberation Sans',sans-serif;transform:scaleX(0.95);-webkit-text-stroke:0.1px #222;">Correlation coefficient</div><div class="t" style="left:538.75px;top:523px;font-size:7.8px;color:#444;font-family:'Liberation Mono',monospace;letter-spacing:0.37px;"><span class="p">&gt;&gt;&gt;</span> np.std(my_array)</div><div class="t" style="left:690.75px;top:523px;font-size:7.0px;color:#222;font-family:'Liberation Sans',sans-serif;transform:scaleX(0.95);-webkit-text-stroke:0.1px #222;">Standard deviation</div><div style="position:absolute;left:533px;top:541.3px;width:261px;height:18.4px;background:#0a8cbf"></div><div class="t" style="left:663.90px;top:544px;font-size:8.6px;color:#fff;font-family:'Liberation Sans',sans-serif;font-weight:bold;transform:translateX(-50%) scaleX(0.96);transform-origin:50% 50%;">DataCamp</div><div class="t" style="left:663.70px;top:554px;font-size:5.2px;color:#fff;font-family:'Liberation Sans',sans-serif;font-weight:bold;transform:translateX(-50%) scaleX(0.94);transform-origin:50% 50%;">Learn Python for Data Science <span style="color:#f2c81e">Interactively</span></div><svg style="position:absolute;left:127.2px;top:50.6px;overflow:visible" width="20" height="20" viewBox="0 0 20 20"><circle cx="9.8" cy="9.9" r="9.8" fill="#1b97c8"/><path d="M3.2,5 L10,2.5 L16.8,5 L16.8,12.2 L10,17.8 L3.2,12.2 Z" fill="none" stroke="#fff" stroke-width="0.85" stroke-linejoin="round"/><path d="M7.3,14.6 L7.3,12.2 C5.4,11 5.3,6.3 9.6,5.9 C12.7,5.7 13.8,8 13.3,9.6 L14.1,11 L13.1,11.2 L13.1,12.6 L11.6,12.8 L11.6,14.6 Z" fill="#fff"/><circle cx="9.9" cy="8.6" r="1.7" fill="#1b97c8"/><circle cx="9.9" cy="8.6" r="0.7" fill="#fff"/></svg><svg style="position:absolute;left:774.2px;top:541.6px;overflow:visible" width="20" height="20" viewBox="0 0 20 20"><path d="M3.2,5 L10,2.5 L16.8,5 L16.8,12.2 L10,17.8 L3.2,12.2 Z" fill="none" stroke="#fff" stroke-width="0.85" stroke-linejoin="round"/><path d="M7.3,14.6 L7.3,12.2 C5.4,11 5.3,6.3 9.6,5.9 C12.7,5.7 13.8,8 13.3,9.6 L14.1,11 L13.1,11.2 L13.1,12.6 L11.6,12.8 L11.6,14.6 Z" fill="#fff"/><circle cx="9.9" cy="8.6" r="1.7" fill="#1591c4"/><circle cx="9.9" cy="8.6" r="0.7" fill="#fff"/></svg><div style="position:absolute;left:669.8px;top:31.9px;width:24px;height:0.8px;background:repeating-linear-gradient(90deg,#7aa6dc 0 1.2px,transparent 1.2px 1.8px);opacity:0.8"></div><svg style="position:absolute;left:696.2px;top:23px;overflow:visible" width="33" height="11" viewBox="0 0 33 11"><rect x="0.25" y="0.25" width="32.3" height="10.6" fill="#fff" stroke="#b5b5b5" stroke-width="0.5"/><line x1="10.6" y1="0" x2="10.6" y2="11" stroke="#b5b5b5" stroke-width="0.5"/><line x1="21.8" y1="0" x2="21.8" y2="11" stroke="#b5b5b5" stroke-width="0.5"/><path d="M1.5,2 v4 h2.5 v-4 M5.5,4 v5 M7.5,5 v4 h1.5 v-4" fill="none" stroke="#3a7ec8" stroke-width="1"/><path d="M11.5,2 L13.5,8 L15.5,3 L17.5,9 L19.5,2 L21,6" fill="none" stroke="#e84a2c" stroke-width="0.9"/><path d="M11.5,5 L13.5,3 L15.5,9 L17.5,4 L19.5,8 L21,3" fill="none" stroke="#4caf50" stroke-width="0.9"/><path d="M11.5,8 L14,6 L16,7 L18,5 L21,9" fill="none" stroke="#f5a623" stroke-width="0.8"/><path d="M22.2,10.6 L22.2,5 L24,3 L25.5,6 L27,2 L28.5,5 L30,3 L32.3,4 L32.3,10.6 Z" fill="#4caf50"/><path d="M22.2,10.6 L22.2,7 L24,6 L25.5,8 L27,5.5 L28.5,7.5 L30,6 L32.3,6.5 L32.3,10.6 Z" fill="#f57c00"/><path d="M22.2,10.6 L22.2,9 L32.3,8.8 L32.3,10.6 Z" fill="#1976d2"/></svg><svg style="position:absolute;left:749.1px;top:23.9px;overflow:visible" width="20" height="12" viewBox="0 0 20 12"><ellipse cx="3.3" cy="5.4" rx="3.2" ry="3.4" fill="#3499cd"/><ellipse cx="13.6" cy="3.0" rx="6" ry="5.9" fill="#f89939"/></svg><svg style="position:absolute;left:678.1px;top:50.9px;overflow:visible" width="16" height="16" viewBox="0 0 16 16"><path d="M0,3.5 L7,0 L15.3,2.5 L8.3,6 Z" fill="#a9b8e8"/><path d="M0,3.5 L8.3,6 L8.3,15.2 L0,12.4 Z" fill="#7f9ae0"/><path d="M8.3,6 L15.3,2.5 L15.3,11.8 L8.3,15.2 Z" fill="#5d7fd6"/><path d="M1,5.5 L3,6.1 L3,8.2 L1,7.6 Z M4,8.5 L6.5,9.2 L6.5,11.5 L4,10.8 Z M1,9 L2.6,9.5 L2.6,11.5 L1,11 Z M5,5.6 L7,6.2 L7,7.6 L5,7 Z" fill="#f6d24a"/><path d="M9.5,7.5 L11,6.8 L11,9 L9.5,9.7 Z M12.5,8.5 L14,7.8 L14,10.5 L12.5,11.2 Z" fill="#f6d24a" opacity="0.8"/></svg><svg style="position:absolute;left:742.6px;top:56.2px;overflow:visible" width="5" height="5" viewBox="0 0 5 5"><path d="M0.5,4 L2.5,3 L4,0.5 M2.5,3 L4.5,4.5 M2.5,3 L2,0.8" fill="none" stroke="#f08a24" stroke-width="0.8"/><path d="M2.5,3 L0.8,1.2" stroke="#3d7ab8" stroke-width="0.8"/></svg><svg style="position:absolute;left:572.9px;top:103.5px;overflow:visible" width="26" height="26" viewBox="0 0 26 26"><path d="M15.21,2.84 A10.1,10.1 0 1 1 6.81,20.87" fill="none" stroke="#43b02a" stroke-width="5"/><rect x="6.55" y="18.06" width="2.0" height="2.0" fill="#43b02a" transform="rotate(45 7.55 19.06)"/><rect x="4.37" y="18.65" width="1.8" height="1.8" fill="#43b02a" transform="rotate(45 5.27 19.55)"/><rect x="4.46" y="21.31" width="1.5" height="1.5" fill="#43b02a" transform="rotate(45 5.21 22.06)"/><rect x="4.93" y="16.35" width="1.9" height="1.9" fill="#43b02a" transform="rotate(45 5.88 17.30)"/><rect x="2.71" y="16.25" width="1.71" height="1.71" fill="#43b02a" transform="rotate(45 3.56 17.11)"/><rect x="2.06" y="18.77" width="1.4249999999999998" height="1.4249999999999998" fill="#43b02a" transform="rotate(45 2.77 19.48)"/><rect x="3.90" y="14.23" width="1.8" height="1.8" fill="#43b02a" transform="rotate(45 4.80 15.13)"/><rect x="1.83" y="13.46" width="1.62" height="1.62" fill="#43b02a" transform="rotate(45 2.64 14.27)"/><rect x="0.51" y="15.63" width="1.35" height="1.35" fill="#43b02a" transform="rotate(45 1.19 16.31)"/><rect x="3.55" y="11.89" width="1.7" height="1.7" fill="#43b02a" transform="rotate(45 4.40 12.74)"/><rect x="1.82" y="10.52" width="1.53" height="1.53" fill="#43b02a" transform="rotate(45 2.59 11.28)"/><rect x="-0.04" y="12.17" width="1.275" height="1.275" fill="#43b02a" transform="rotate(45 0.60 12.81)"/><rect x="3.92" y="9.54" width="1.6" height="1.6" fill="#43b02a" transform="rotate(45 4.72 10.34)"/><rect x="2.69" y="7.69" width="1.4400000000000002" height="1.4400000000000002" fill="#43b02a" transform="rotate(45 3.41 8.41)"/><rect x="0.46" y="8.69" width="1.2000000000000002" height="1.2000000000000002" fill="#43b02a" transform="rotate(45 1.06 9.29)"/><rect x="4.97" y="7.38" width="1.5" height="1.5" fill="#43b02a" transform="rotate(45 5.72 8.13)"/><rect x="4.36" y="5.23" width="1.35" height="1.35" fill="#43b02a" transform="rotate(45 5.04 5.91)"/><rect x="1.97" y="5.50" width="1.125" height="1.125" fill="#43b02a" transform="rotate(45 2.54 6.06)"/><rect x="6.63" y="5.62" width="1.4" height="1.4" fill="#43b02a" transform="rotate(45 7.33 6.32)"/><rect x="6.69" y="3.36" width="1.26" height="1.26" fill="#43b02a" transform="rotate(45 7.32 3.99)"/><rect x="4.36" y="2.88" width="1.0499999999999998" height="1.0499999999999998" fill="#43b02a" transform="rotate(45 4.89 3.41)"/><rect x="8.75" y="4.40" width="1.3" height="1.3" fill="#43b02a" transform="rotate(45 9.40 5.05)"/><rect x="9.49" y="2.24" width="1.1700000000000002" height="1.1700000000000002" fill="#43b02a" transform="rotate(45 10.07 2.82)"/><rect x="7.42" y="1.07" width="0.9750000000000001" height="0.9750000000000001" fill="#43b02a" transform="rotate(45 7.91 1.55)"/><rect x="11.14" y="3.84" width="1.2" height="1.2" fill="#43b02a" transform="rotate(45 11.74 4.44)"/><rect x="12.50" y="1.97" width="1.08" height="1.08" fill="#43b02a" transform="rotate(45 13.04 2.51)"/><rect x="10.90" y="0.22" width="0.8999999999999999" height="0.8999999999999999" fill="#43b02a" transform="rotate(45 11.35 0.67)"/><rect x="13.61" y="4.00" width="1.1" height="1.1" fill="#43b02a" transform="rotate(45 14.16 4.55)"/><rect x="15.48" y="2.58" width="0.9900000000000001" height="0.9900000000000001" fill="#43b02a" transform="rotate(45 15.97 3.08)"/><rect x="14.48" y="0.41" width="0.8250000000000001" height="0.8250000000000001" fill="#43b02a" transform="rotate(45 14.89 0.82)"/></svg><div style="position:absolute;left:624.5px;top:133px;font:3px 'Liberation Sans',sans-serif;color:#43b02a;line-height:1">&#174;</div><svg style="position:absolute;left:663.4px;top:102.7px;overflow:visible" width="36" height="36" viewBox="0 0 36 36"><line x1="19.74" y1="8.15" x2="21.30" y2="-0.71" stroke="#dedede" stroke-width="2.2" stroke-linecap="round"/><line x1="26.19" y1="12.26" x2="33.56" y2="7.10" stroke="#dedede" stroke-width="2.2" stroke-linecap="round"/><line x1="27.85" y1="19.74" x2="36.71" y2="21.30" stroke="#dedede" stroke-width="2.2" stroke-linecap="round"/><line x1="23.74" y1="26.19" x2="28.90" y2="33.56" stroke="#dedede" stroke-width="2.2" stroke-linecap="round"/><line x1="16.26" y1="27.85" x2="14.70" y2="36.71" stroke="#dedede" stroke-width="2.2" stroke-linecap="round"/><line x1="9.81" y1="23.74" x2="2.44" y2="28.90" stroke="#dedede" stroke-width="2.2" stroke-linecap="round"/><line x1="8.15" y1="16.26" x2="-0.71" y2="14.70" stroke="#dedede" stroke-width="2.2" stroke-linecap="round"/><line x1="12.26" y1="9.81" x2="7.10" y2="2.44" stroke="#dedede" stroke-width="2.2" stroke-linecap="round"/><polygon points="23.17,5.53 30.47,12.83 30.47,23.17 23.17,30.47 12.83,30.47 5.53,23.17 5.53,12.83 12.83,5.53" fill="#3c3c3c"/><path d="M13,5 L15,12 L21,13 L24,6 M15,12 L12,18 L16,24 L22,23 L25,17 L21,13 M12,18 L5,19 M16,24 L14,31 M22,23 L24,30 M25,17 L31,16" fill="none" stroke="#fff" stroke-width="0.9"/><path d="M5.5,19.5 C8,15 10,14 12.5,16 C15,18.5 16.5,22 19.5,21 C22.5,20 22.5,15 25.5,15.5 C28,16 29,14.5 29.5,14" fill="none" stroke="#e3201d" stroke-width="3" stroke-linecap="round"/></svg><svg style="position:absolute;left:737.8px;top:105.3px;overflow:visible" width="35" height="36" viewBox="0 0 35 36"><path d="M0,11.1 C3,-3.7 31.4,-3.7 34.4,11.1 C28,3.8 6.4,3.8 0,11.1 Z" fill="#f37726"/><path d="M0,24.7 C3,36.6 31.4,36.6 34.4,24.7 C28,30.4 6.4,30.4 0,24.7 Z" fill="#f37726"/><circle cx="1.8" cy="1.9" r="1.8" fill="#616262"/><circle cx="29.4" cy="-1.8" r="2.3" fill="#767677"/><circle cx="4.6" cy="38.2" r="3" fill="#989798"/></svg><div class="t" style="left:669.30px;top:23px;font-size:7.9px;color:#222;font-family:'Liberation Sans',sans-serif;transform:scaleX(0.98);">pandas</div><div class="t" style="left:757.40px;top:26px;font-size:6.6px;color:#1a1a1a;font-family:'Liberation Serif',sans-serif;font-weight:bold;font-style:italic;transform:scaleX(1.05);">learn</div><div class="t" style="left:694.60px;top:56px;font-size:8.6px;color:#4b5ea8;font-family:'Liberation Serif',sans-serif;">NumPy</div><div class="t" style="left:748.90px;top:56px;font-size:8.2px;color:#3f77a8;font-family:'Liberation Sans',sans-serif;transform:scaleX(0.97);">matplotlib</div><div class="t" style="left:545.60px;top:133px;font-size:13.8px;color:#43b02a;font-family:'Liberation Sans',sans-serif;font-weight:bold;transform:scaleX(0.975);">ANACONDA</div><div class="t" style="left:664.20px;top:134px;font-size:12.2px;color:#484848;font-family:'Liberation Sans',sans-serif;transform:scaleX(1.06);">spyder</div><div class="t" style="left:735.40px;top:117px;font-size:10.6px;color:#4e4e4e;font-family:'Liberation Sans',sans-serif;letter-spacing:0.75px;">jupyter</div>
</body></html>
